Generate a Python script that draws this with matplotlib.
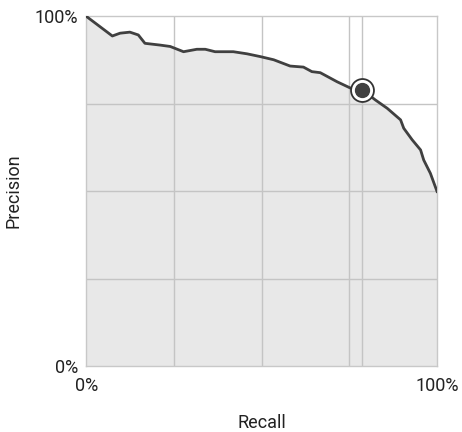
import matplotlib
matplotlib.use('Agg')
import matplotlib.pyplot as plt

plt.rcParams['font.family'] = ['Roboto', 'DejaVu Sans']

# Кривая precision-recall
recall = [0.0, 0.074, 0.096, 0.124, 0.148, 0.167, 0.21, 0.239, 0.277, 0.315,
          0.339, 0.367, 0.419, 0.458, 0.496, 0.534, 0.581, 0.619, 0.643, 0.667,
          0.715, 0.753, 0.787, 0.824, 0.858, 0.896, 0.905, 0.929, 0.953, 0.962,
          0.981, 1.0]
precision = [1.0, 0.944, 0.952, 0.955, 0.947, 0.923, 0.918, 0.914, 0.899, 0.906,
             0.906, 0.899, 0.899, 0.893, 0.885, 0.876, 0.858, 0.855, 0.842, 0.839,
             0.813, 0.795, 0.79, 0.761, 0.737, 0.704, 0.68, 0.647, 0.618, 0.589,
             0.551, 0.499]

# Выбранная точка на кривой
point_recall = 0.787
point_precision = 0.79

tick_values = [0, 1]
tick_labels = ['0%', '100%']
grid_x = [0.25, 0.5, 0.75, point_recall]
grid_y = [0.25, 0.5, 0.75]

fig = plt.figure(figsize=(4.62, 4.32), dpi=100)
ax = fig.add_axes([0.187, 0.153, 0.759, 0.809])

ax.fill_between(recall, precision, 0, color='#e8e8e8', zorder=1)
for gx in grid_x:
    ax.axvline(gx, color='#c4c4c4', lw=1, zorder=2)
for gy in grid_y:
    ax.axhline(gy, color='#c4c4c4', lw=1, zorder=2)
ax.plot(recall, precision, color='#404040', lw=2, zorder=3,
        solid_joinstyle='round')

ax.plot([point_recall], [point_precision], 'o', ms=16.5, mfc='white',
        mec='#333333', mew=1.3, zorder=4)
ax.plot([point_recall], [point_precision], 'o', ms=10, mfc='#404040',
        mec='#404040', zorder=5)

ax.set_xlim(0, 1)
ax.set_ylim(0, 1)
ax.set_xticks(tick_values)
ax.set_xticklabels(tick_labels)
ax.set_yticks(tick_values)
ax.set_yticklabels(tick_labels)
ax.tick_params(length=0, labelsize=13, labelcolor='#222222')
ax.tick_params(axis='x', pad=8)
ax.tick_params(axis='y', pad=6)

for s in ax.spines.values():
    s.set_color('#c8c8c8')
    s.set_linewidth(1)

ax.set_xlabel('Recall', fontsize=13, color='#222222', labelpad=14)
ax.set_ylabel('Precision', fontsize=13, color='#222222', labelpad=9)

plt.savefig('out.png', dpi=100)
